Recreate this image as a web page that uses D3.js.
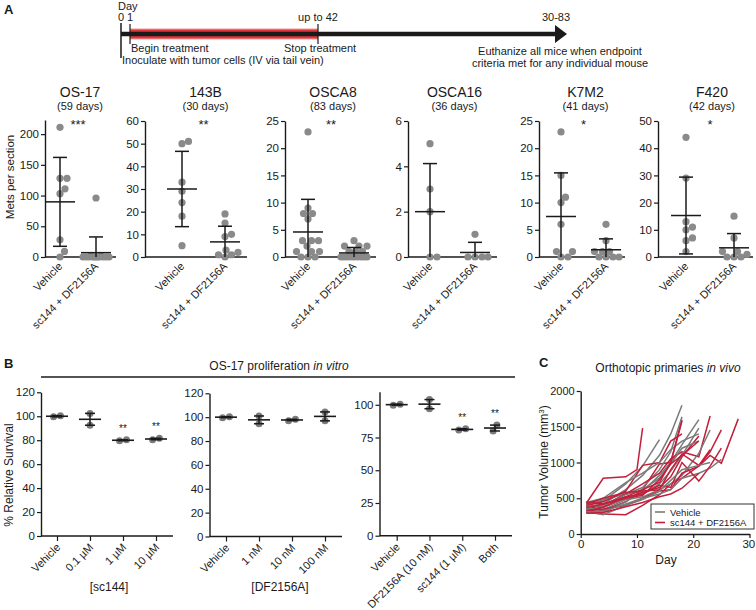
<!DOCTYPE html>
<html><head><meta charset="utf-8">
<script src="https://cdn.jsdelivr.net/npm/d3@7"></script>
<style>
body{margin:0;background:#fff}
text{font-family:"Liberation Sans",Arial,Helvetica,sans-serif;fill:#1a1a1a}
</style></head>
<body><svg id="c" width="756" height="610"></svg>
<script>
// ---------------- DATA ----------------
// Timeline milestones
const tlDayLabels = ["0", "1", "up to 42", "30-83"];
const tlEvents = ["Begin treatment", "Stop treatment", "Inoculate with tumor cells (IV via tail vein)"];
const tlEndText = ["Euthanize all mice when endpoint", "criteria met for any individual mouse"];

// Panel A
const aGroups = ["Vehicle", "sc144 + DF2156A"];
const aTitles = ["OS-17", "143B", "OSCA8", "OSCA16", "K7M2", "F420"];
const aDays = ["(59 days)", "(30 days)", "(83 days)", "(36 days)", "(41 days)", "(42 days)"];
const aStars = ["***", "**", "**", "", "*", "*"];
const aYMax = [223, 60, 25, 6, 25, 50];
const aYTicks = [[0,50,100,150,200],[0,10,20,30,40,50,60],[0,5,10,15,20,25],[0,2,4,6],[0,5,10,15,20,25],[0,10,20,30,40,50]];
const os17Vehicle = [211, 128, 128, 111, 103, 28, 9, 0];
const os17Treated = [96, 2, 1, 0, 0, 0, 0, 0, 0, 0, 0, 0, 0, 0];
const b143Vehicle = [51, 50, 33, 29, 24, 18, 5];
const b143Treated = [19, 15, 10, 9, 3, 2, 1, 1, 0];
const osca8Vehicle = [23, 9, 8, 8, 7, 3, 3, 3, 2, 1, 1, 1, 0, 0, 0];
const osca8Treated = [3, 2, 2, 2, 1, 1, 1, 0, 0, 0, 0, 0, 0, 0, 0, 0];
const osca16Vehicle = [5, 3, 2, 0, 0];
const osca16Treated = [1, 0, 0, 0, 0];
const k7m2Vehicle = [23, 15, 11, 10, 6, 1, 1, 0, 0];
const k7m2Treated = [6, 3, 1, 1, 1, 0, 0, 0, 0];
const f420Vehicle = [44, 29, 13, 11, 10, 7, 6, 2];
const f420Treated = [15, 7, 2, 2, 1, 0, 0, 0];
const aSeries = [[os17Vehicle, os17Treated],[b143Vehicle, b143Treated],[osca8Vehicle, osca8Treated],
                 [osca16Vehicle, osca16Treated],[k7m2Vehicle, k7m2Treated],[f420Vehicle, f420Treated]];

// Panel B
const bTitle = "OS-17 proliferation ";
const bTitleItalic = "in vitro";
const b1Cats = ["Vehicle", "0.1 µM", "1 µM", "10 µM"];
const b2Cats = ["Vehicle", "1 nM", "10 nM", "100 nM"];
const b3Cats = ["Vehicle", "DF2156A (10 nM)", "sc144 (1 µM)", "Both"];
const b1Values = [[99.5, 100.5], [102.4, 92.5], [79.6, 80.3], [80.4, 81.6]];
const b2Values = [[99.6, 100.4], [101, 94.5], [97.1, 98.2], [104.4, 96.9]];
const b3Values = [[99.7, 100.5], [104, 97], [80.7, 81.7], [80, 84.5]];
const b1Stars = ["", "", "**", "**"];
const b2Stars = ["", "", "", ""];
const b3Stars = ["", "", "**", "**"];
const bXTitles = ["[sc144]", "[DF2156A]", ""];
const b12Ticks = [0, 20, 40, 60, 80, 100, 120];
const b3Ticks = [0, 25, 50, 75, 100];

// Panel C: [day, tumor volume mm3] per mouse
const cVehicle = [
  [[1,380],[4,420],[8,620],[11,820],[14,1100],[16,1400],[18,1800]],
  [[1,420],[4,460],[8,700],[11,950],[14,1320]],
  [[1,350],[4,300],[8,450],[11,600],[14,820],[16,1000],[18,1250],[21,1600]],
  [[1,400],[4,480],[8,560],[11,650],[14,900],[16,1150],[18,1640]],
  [[1,330],[4,380],[8,500],[11,560],[14,700],[16,880],[18,1100],[21,1480]],
  [[1,360],[4,340],[8,480],[11,520],[14,620],[16,700],[18,820],[21,1130],[23,1455]],
  [[1,300],[4,320],[8,420],[11,500],[14,560],[16,620],[18,780],[21,850],[23,920],[25,1044]],
  [[1,440],[4,500],[8,720],[11,850],[14,1000],[16,1180],[18,1300],[21,1400]],
  [[1,380],[4,400],[8,550],[11,620],[14,780],[16,980],[18,1200],[21,1300]],
  [[1,320],[4,270],[8,400],[11,480],[14,600],[16,750],[18,900],[21,960],[23,1000]]
];
const cTreated = [
  [[1,430],[4,780],[8,800],[10,900],[11,1480]],
  [[1,300],[4,330],[8,450],[11,620],[14,980],[16,1000],[18,1600]],
  [[1,320],[4,370],[8,500],[11,580],[14,650],[16,800],[18,1080],[21,1371]],
  [[1,350],[4,400],[8,560],[11,700],[14,850],[16,1050],[18,1150],[21,1080],[23,1650]],
  [[1,300],[4,280],[8,270],[11,400],[14,550],[16,700],[18,780],[21,950],[23,1150],[25,1455]],
  [[1,330],[4,350],[8,400],[11,500],[14,600],[16,620],[18,850],[21,950],[23,1100],[25,990],[28,1610]],
  [[1,400],[4,450],[8,600],[11,960],[14,1000],[16,1300],[18,1400]],
  [[1,310],[4,380],[8,520],[11,560],[14,680],[16,650],[18,1000],[21,740],[23,950],[25,1200]],
  [[1,420],[4,500],[8,580],[11,600],[14,620],[16,900],[18,1120],[21,960],[23,1180]],
  [[1,370],[4,420],[8,520],[11,620],[14,720],[16,1000],[18,1580]],
  [[1,290],[4,300],[8,380],[11,440],[14,520],[16,560],[18,640],[21,850]],
  [[1,450],[4,420],[8,500],[11,540],[14,760],[16,980],[18,1100],[21,1300]]
];
const cLegend = ["Vehicle", "sc144 + DF2156A"];
const cXTicks = [0, 10, 20, 30];
const cYTicks = [0, 500, 1000, 1500, 2000];

// ---------------- DRAW ----------------
const svg = d3.select("#c");
const INK = "#1a1a1a", DOT = "#8a8a8a", RED = "#c41e3a", GRAY = "#7a7a7a";
const fmt = d3.format("d");

function styleAxis(g, fs) {
  g.selectAll(".domain").attr("stroke", INK).attr("stroke-width", 1.4);
  g.selectAll(".tick line").attr("stroke", INK).attr("stroke-width", 1.2);
  g.selectAll(".tick text").attr("font-size", fs).attr("fill", INK)
    .style("font-family", '"Liberation Sans",Arial,sans-serif');
}
function swarm(vals, y, r, maxHalf) {
  const diam = 2 * r * 0.95;
  const order = vals.map((v, i) => i).sort((a, b) => vals[a] - vals[b]);
  const placed = [], off = new Array(vals.length);
  const cands = [0];
  for (let k = 0.5; k <= maxHalf; k += 0.5) cands.push(k, -k);
  for (const i of order) {
    const yy = y(vals[i]);
    let best = 0, bestScore = -1;
    for (const c of cands) {
      let minD = Infinity;
      for (const p of placed) { const d = Math.hypot(p.x - c, p.y - yy); if (d < minD) minD = d; }
      if (minD >= diam) { best = c; break; }
      if (minD > bestScore) { bestScore = minD; best = c; }
    }
    off[i] = best; placed.push({x: best, y: yy});
  }
  return off;
}

// Panel labels
svg.append("text").attr("x", 4).attr("y", 14).attr("font-size", 13).attr("font-weight", "bold").text("A");
svg.append("text").attr("x", 4).attr("y", 368).attr("font-size", 13).attr("font-weight", "bold").text("B");
svg.append("text").attr("x", 539).attr("y", 367).attr("font-size", 13).attr("font-weight", "bold").text("C");

// ---------- Timeline ----------
{
  const g = svg.append("g");
  const xs = [121, 130, 318, 556]; // schematic milestone positions
  const yL = 34;
  g.append("rect").attr("x", xs[1]).attr("y", yL - 5.5).attr("width", xs[2] - xs[1]).attr("height", 11).attr("fill", "#f0a0a0");
  g.append("rect").attr("x", xs[1]).attr("y", yL - 4.5).attr("width", xs[2] - xs[1]).attr("height", 9).attr("fill", "#e2343a");
  g.append("line").attr("x1", xs[0]).attr("x2", xs[3]).attr("y1", yL).attr("y2", yL).attr("stroke", INK).attr("stroke-width", 4.5);
  g.append("path").attr("d", `M${xs[3]-1},${yL-9}L${xs[3]+11},${yL}L${xs[3]-1},${yL+9}Z`).attr("fill", INK);
  g.append("line").attr("x1", xs[0]).attr("x2", xs[0]).attr("y1", 23).attr("y2", 58).attr("stroke", INK).attr("stroke-width", 1.5);
  g.append("line").attr("x1", xs[1]).attr("x2", xs[1]).attr("y1", 24).attr("y2", 44).attr("stroke", INK).attr("stroke-width", 1.2);
  g.append("line").attr("x1", xs[2]).attr("x2", xs[2]).attr("y1", 24).attr("y2", 44).attr("stroke", INK).attr("stroke-width", 1.2);
  g.append("text").attr("x", 118).attr("y", 9.5).attr("font-size", 11).text("Day");
  g.append("text").attr("x", xs[0]).attr("y", 21).attr("font-size", 11).attr("text-anchor", "middle").text(tlDayLabels[0]);
  g.append("text").attr("x", xs[1]).attr("y", 21).attr("font-size", 11).attr("text-anchor", "middle").text(tlDayLabels[1]);
  g.append("text").attr("x", xs[2]).attr("y", 21).attr("font-size", 11).attr("text-anchor", "middle").text(tlDayLabels[2]);
  g.append("text").attr("x", xs[3]).attr("y", 21).attr("font-size", 11).attr("text-anchor", "middle").text(tlDayLabels[3]);
  g.append("text").attr("x", xs[1] + 1).attr("y", 52).attr("font-size", 11).text(tlEvents[0]);
  g.append("text").attr("x", xs[2] - 34).attr("y", 52).attr("font-size", 11).text(tlEvents[1]);
  g.append("text").attr("x", xs[0] + 1).attr("y", 64).attr("font-size", 11).text(tlEvents[2]);
  g.append("text").attr("x", 560).attr("y", 55).attr("font-size", 11).attr("text-anchor", "middle").text(tlEndText[0]);
  g.append("text").attr("x", 560).attr("y", 67).attr("font-size", 11).attr("text-anchor", "middle").text(tlEndText[1]);
}

// ---------- Panel A ----------
const aLayout = [
  {x0: 45, c: [60, 96], x1: 116, top: 120},
  {x0: 145, c: [182, 225], x1: 247, top: 121},
  {x0: 285, c: [308, 354], x1: 376, top: 121},
  {x0: 408, c: [430, 475], x1: 497, top: 121},
  {x0: 539, c: [561, 606], x1: 625, top: 121},
  {x0: 658, c: [686, 734], x1: 753, top: 121}
];
const aY0 = 257;
svg.append("text").attr("transform", `translate(14,177) rotate(-90)`).attr("text-anchor", "middle")
  .attr("font-size", 11.5).text("Mets per section");
aTitles.forEach((title, i) => {
  const L = aLayout[i];
  const g = svg.append("g");
  const y = d3.scaleLinear().domain([0, aYMax[i]]).range([aY0, L.top]);
  const x = d3.scalePoint().domain(aGroups).range(L.c);
  const ax = g.append("g").attr("transform", `translate(${L.x0},0)`)
    .call(d3.axisLeft(y).tickValues(aYTicks[i]).tickFormat(fmt).tickSize(4).tickSizeOuter(0).tickPadding(2));
  styleAxis(ax, 11.5);
  g.append("line").attr("x1", L.x0).attr("x2", L.x1).attr("y1", aY0).attr("y2", aY0).attr("stroke", INK).attr("stroke-width", 1.4);
  aGroups.forEach((grp, j) => {
    const vals = aSeries[i][j];
    const cx = x(grp);
    const off = swarm(vals, y, 3.6, 13);
    g.selectAll(null).data(vals).join("circle")
      .attr("cx", (d, k) => cx + off[k]).attr("cy", d => y(d)).attr("r", 3.6).attr("fill", DOT);
    const m = d3.mean(vals), sd = d3.deviation(vals);
    const lo = Math.max(0, m - sd), hi = Math.min(aYMax[i], m + sd);
    g.append("line").attr("x1", cx).attr("x2", cx).attr("y1", y(lo)).attr("y2", y(hi)).attr("stroke", INK).attr("stroke-width", 1.5);
    g.append("line").attr("x1", cx - 15).attr("x2", cx + 15).attr("y1", y(m)).attr("y2", y(m)).attr("stroke", INK).attr("stroke-width", 1.5);
    g.append("line").attr("x1", cx - 7).attr("x2", cx + 7).attr("y1", y(hi)).attr("y2", y(hi)).attr("stroke", INK).attr("stroke-width", 1.5);
    if (m - sd > 0) g.append("line").attr("x1", cx - 7).attr("x2", cx + 7).attr("y1", y(lo)).attr("y2", y(lo)).attr("stroke", INK).attr("stroke-width", 1.5);
    g.append("text").attr("transform", `translate(${cx + 3},${aY0 + 10}) rotate(-45)`)
      .attr("text-anchor", "end").attr("font-size", 11).text(grp);
  });
  const mid = (L.c[0] + L.c[1]) / 2 + 2;
  g.append("text").attr("x", mid).attr("y", 97).attr("text-anchor", "middle").attr("font-size", 14).text(title);
  g.append("text").attr("x", mid).attr("y", 110).attr("text-anchor", "middle").attr("font-size", 11).text(aDays[i]);
  if (aStars[i]) g.append("text").attr("x", mid - 2).attr("y", 129).attr("text-anchor", "middle").attr("font-size", 13).text(aStars[i]);
});

// ---------- Panel B ----------
svg.append("text").attr("x", 279).attr("y", 370).attr("text-anchor", "middle").attr("font-size", 12)
  .text(bTitle).append("tspan").attr("font-style", "italic").text(bTitleItalic);
svg.append("line").attr("x1", 41).attr("x2", 515).attr("y1", 377).attr("y2", 377).attr("stroke", INK).attr("stroke-width", 1.4);
svg.append("text").attr("transform", `translate(13,475) rotate(-90)`).attr("text-anchor", "middle")
  .attr("font-size", 12).text("% Relative Survival");
const bLayout = [
  {x0: 41, c: [57, 156], x1: 173, y0: 536, top: 392.3, max: 120, ticks: b12Ticks, cats: b1Cats, vals: b1Values, stars: b1Stars, xt: bXTitles[0], xtx: 109},
  {x0: 209.5, c: [226, 325], x1: 342, y0: 536.5, top: 393.3, max: 120, ticks: b12Ticks, cats: b2Cats, vals: b2Values, stars: b2Stars, xt: bXTitles[1], xtx: 280},
  {x0: 379.5, c: [396.7, 495], x1: 512, y0: 535.7, top: 391.7, max: 110, ticks: b3Ticks, cats: b3Cats, vals: b3Values, stars: b3Stars, xt: bXTitles[2], xtx: 445}
];
bLayout.forEach(L => {
  const g = svg.append("g");
  const y = d3.scaleLinear().domain([0, L.max]).range([L.y0, L.top]);
  const x = d3.scalePoint().domain(L.cats).range(L.c);
  const ay = g.append("g").attr("transform", `translate(${L.x0},0)`)
    .call(d3.axisLeft(y).tickValues(L.ticks).tickFormat(fmt).tickSize(4).tickSizeOuter(0).tickPadding(2));
  styleAxis(ay, 11.5);
  const axb = g.append("g").attr("transform", `translate(0,${L.y0})`).call(d3.axisBottom(x).tickSize(5).tickFormat(""));
  axb.select(".domain").remove();
  styleAxis(axb, 11);
  g.append("line").attr("x1", L.x0).attr("x2", L.x1).attr("y1", L.y0).attr("y2", L.y0).attr("stroke", INK).attr("stroke-width", 1.4);
  L.cats.forEach((cat, j) => {
    const cx = x(cat), vals = L.vals[j];
    const dy = Math.abs(y(vals[0]) - y(vals[1]));
    const sp = dy < 7 ? Math.sqrt(49 - dy * dy) / 2 : 0;
    const offs = vals[0] <= vals[1] ? [-sp, sp] : [sp, -sp];
    g.selectAll(null).data(vals).join("circle").attr("cx", (d, k) => cx + offs[k]).attr("cy", d => y(d))
      .attr("r", 3.5).attr("fill", "#7c7c7c");
    const m = d3.mean(vals), se = d3.deviation(vals) / Math.sqrt(vals.length);
    g.append("line").attr("x1", cx).attr("x2", cx).attr("y1", y(m - se)).attr("y2", y(m + se)).attr("stroke", INK).attr("stroke-width", 1.5);
    [m - se, m + se].forEach(v => g.append("line").attr("x1", cx - 5).attr("x2", cx + 5).attr("y1", y(v)).attr("y2", y(v)).attr("stroke", INK).attr("stroke-width", 1.5));
    g.append("line").attr("x1", cx - 11).attr("x2", cx + 11).attr("y1", y(m)).attr("y2", y(m)).attr("stroke", INK).attr("stroke-width", 1.6);
    if (L.stars[j]) g.append("text").attr("x", cx).attr("y", y(m + se) - 8).attr("text-anchor", "middle")
      .attr("font-size", 10).attr("fill", "#333").text(L.stars[j]);
    g.append("text").attr("transform", `translate(${cx + 4},${L.y0 + 12}) rotate(-45)`)
      .attr("text-anchor", "end").attr("font-size", 11).text(cat);
  });
  if (L.xt) g.append("text").attr("x", L.xtx).attr("y", 591).attr("text-anchor", "middle").attr("font-size", 12).text(L.xt);
});

// ---------- Panel C ----------
{
  const g = svg.append("g");
  const x = d3.scaleLinear().domain([0, 30]).range([580.7, 749.5]);
  const y = d3.scaleLinear().domain([0, 2000]).range([534, 391]);
  g.append("text").attr("x", 668).attr("y", 372).attr("text-anchor", "middle").attr("font-size", 12)
    .text("Orthotopic primaries ").append("tspan").attr("font-style", "italic").text("in vivo");
  const line = d3.line().x(d => x(d[0])).y(d => y(d[1]));
  const n = Math.max(cVehicle.length, cTreated.length);
  for (let i = 0; i < n; i++) {
    if (cVehicle[i]) g.append("path").attr("d", line(cVehicle[i])).attr("fill", "none").attr("stroke", GRAY).attr("stroke-width", 1.5);
    if (cTreated[i]) g.append("path").attr("d", line(cTreated[i])).attr("fill", "none").attr("stroke", RED).attr("stroke-width", 1.5);
  }
  const ay = g.append("g").attr("transform", `translate(${x(0)},0)`)
    .call(d3.axisLeft(y).tickValues(cYTicks).tickFormat(fmt).tickSize(4).tickSizeOuter(0).tickPadding(2));
  styleAxis(ay, 11);
  const ax = g.append("g").attr("transform", `translate(0,${y(0)})`)
    .call(d3.axisBottom(x).tickValues(cXTicks).tickFormat(fmt).tickSize(4).tickSizeOuter(0).tickPadding(2));
  styleAxis(ax, 11.5);
  ax.selectAll(".tick text").filter(d => d === 30).attr("text-anchor", "end").attr("dx", "0.45em");
  g.append("text").attr("x", 666).attr("y", 564).attr("text-anchor", "middle").attr("font-size", 12).text("Day");
  const yl = g.append("text").attr("transform", `translate(548,462) rotate(-90)`).attr("text-anchor", "middle").attr("font-size", 12);
  yl.append("tspan").text("Tumor Volume (mm");
  yl.append("tspan").attr("dy", -4).attr("font-size", 8).text("3");
  yl.append("tspan").attr("dy", 4).text(")");
  // legend
  const lg = g.append("g");
  lg.append("rect").attr("x", 651).attr("y", 504).attr("width", 103).attr("height", 25).attr("fill", "#fff").attr("stroke", "#333").attr("stroke-width", 1);
  [[GRAY, cLegend[0], 512], [RED, cLegend[1], 522.5]].forEach(([col, lab, yy]) => {
    lg.append("line").attr("x1", 655).attr("x2", 665).attr("y1", yy).attr("y2", yy).attr("stroke", col).attr("stroke-width", 1.6);
    lg.append("text").attr("x", 670).attr("y", yy + 3.5).attr("font-size", 9.5).text(lab);
  });
}
</script>
</body></html>
